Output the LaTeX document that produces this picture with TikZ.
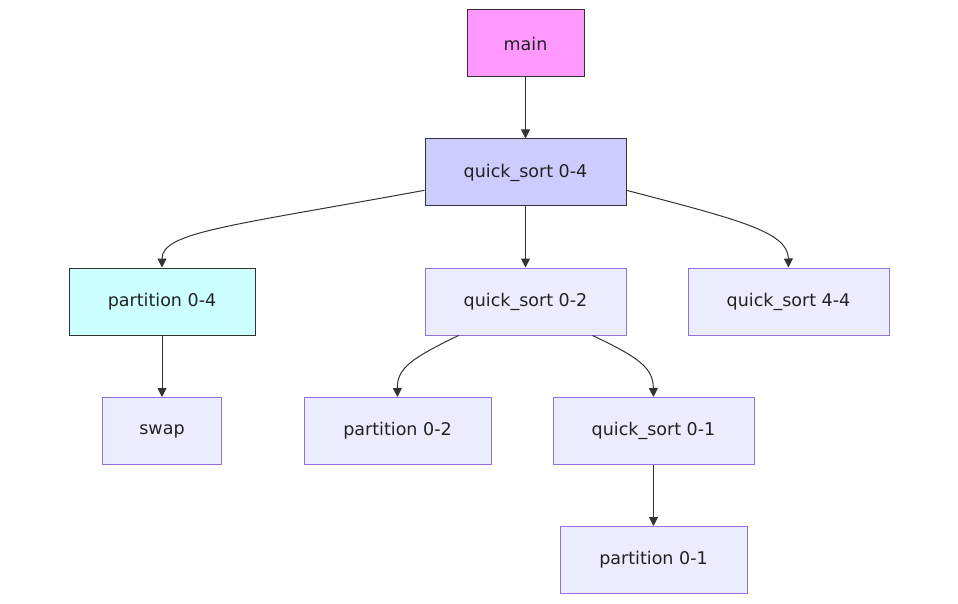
\documentclass[tikz,border=0pt]{standalone}
\usepackage{fontspec}
\setmainfont{DejaVu Sans}
\usetikzlibrary{arrows.meta}
\definecolor{mainfill}{HTML}{FF99FF}
\definecolor{qsfill}{HTML}{CCCCFF}
\definecolor{pfill}{HTML}{CCFFFF}
\definecolor{deffill}{HTML}{ECECFF}
\definecolor{defline}{HTML}{9370DB}
\definecolor{darkline}{HTML}{333333}
\definecolor{txt}{HTML}{222222}
\begin{document}
\begin{tikzpicture}[x=1pt,y=-1pt,
  box/.style={draw=defline, fill=deffill, line width=1pt, minimum height=67pt, inner sep=0pt,
    font=\fontsize{17.5}{21}\selectfont, text=txt},
  darkbox/.style={box, draw=darkline},
  link/.style={draw=darkline, line width=1pt, -{Triangle[length=9pt,width=9pt]}}]
\useasboundingbox (0,0) rectangle (958,604);
\node[darkbox, fill=mainfill, minimum width=117pt] (main) at (525.5,43.5) {main};
\node[darkbox, fill=qsfill, minimum width=201pt] (qs04) at (525.5,172.5) {quick\_sort 0-4};
\node[darkbox, fill=pfill, minimum width=186pt] (p04) at (162,301.5) {partition 0-4};
\node[box, minimum width=201pt] (qs02) at (525.5,301.5) {quick\_sort 0-2};
\node[box, minimum width=201pt] (qs44) at (788.5,301.5) {quick\_sort 4-4};
\node[box, minimum width=119pt] (swap) at (162,431) {swap};
\node[box, minimum width=187pt] (p02) at (397.5,431) {partition 0-2};
\node[box, minimum width=201pt] (qs01) at (653.5,431) {quick\_sort 0-1};
\node[box, minimum width=187pt] (p01) at (653.5,560) {partition 0-1};
\draw[link] (main) -- (qs04);
\draw[link] (qs04) -- (qs02);
\draw[link] (p04) -- (swap);
\draw[link] (qs01) -- (p01);
\draw[link] (qs04.190) .. controls (230,226) and (162,232) .. (p04.north);
\draw[link] (qs04.-10) .. controls (740,220) and (788,232) .. (qs44.north);
\draw[link] ([xshift=-67pt]qs02.south) .. controls (412,358) and (397,368) .. (p02.north);
\draw[link] ([xshift=67pt]qs02.south) .. controls (640,358) and (653,368) .. (qs01.north);
\end{tikzpicture}
\end{document}
